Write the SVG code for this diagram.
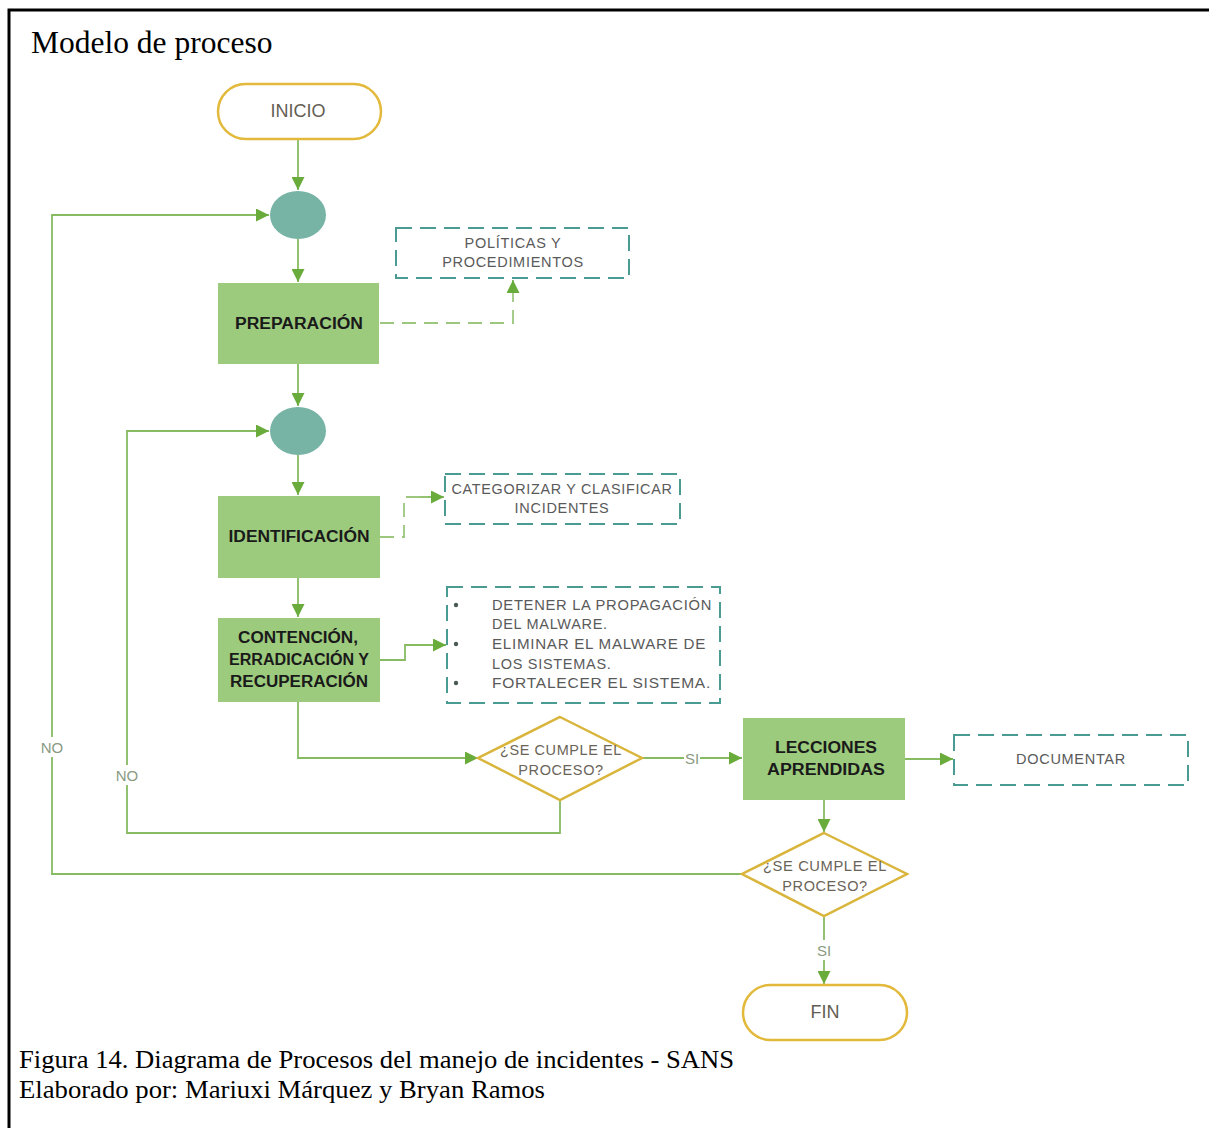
<svg xmlns="http://www.w3.org/2000/svg" width="1209" height="1128" viewBox="0 0 1209 1128">
  <style>
    .frame { fill: none; stroke: #000; stroke-width: 3; }
    .title { font-family: "Liberation Serif", "Times New Roman", serif; fill: #000; }
    .term { fill: #fff; stroke: #e2b93b; stroke-width: 2.5; }
    .term-text { font-family: "Liberation Sans", Arial, sans-serif; font-size: 18px; fill: #635d52; text-anchor: middle; }
    .junction { fill: #77b4a6; }
    .step { fill: #9dcb7e; }
    .step-text { font-family: "Liberation Sans", Arial, sans-serif; font-weight: bold; font-size: 16px; fill: #1a1a1a; text-anchor: middle; }
    .note { fill: #fff; stroke: #4a9c92; stroke-width: 2; stroke-dasharray: 16 8; }
    .note-text { font-family: "Liberation Sans", Arial, sans-serif; font-size: 14.5px; fill: #5a5a5a; letter-spacing: 0.7px; }
    .decision { fill: #fff; stroke: #d9b53c; stroke-width: 2.5; }
    .dec-text { font-family: "Liberation Sans", Arial, sans-serif; font-size: 14.5px; fill: #6a6458; text-anchor: middle; letter-spacing: 0.6px; }
    .flow { fill: none; stroke: #86bb62; stroke-width: 1.8; }
    .flow-dash { fill: none; stroke: #9cc77f; stroke-width: 1.8; stroke-dasharray: 14 8; }
    .label { font-family: "Liberation Sans", Arial, sans-serif; font-size: 15px; fill: #8a9a82; text-anchor: middle; }
    .bullet { fill: #4a5a58; }
  </style>
  <defs>
    <marker id="arrow" markerUnits="userSpaceOnUse" markerWidth="14" markerHeight="13" refX="13" refY="6.5" orient="auto">
      <path d="M0,0 L13,6.5 L0,13 z" fill="#6aac3c"/>
    </marker>
  </defs>

  <rect width="1209" height="1128" fill="#fff"/>
  <path class="frame" d="M9,1128 V10 H1209"/>
  <text class="title" x="31" y="53" font-size="31.5">Modelo de proceso</text>

  <!-- connectors -->
  <g id="connectors">
    <path class="flow" d="M298,139 V190" marker-end="url(#arrow)"/>
    <path class="flow" d="M298,239 V282" marker-end="url(#arrow)"/>
    <path class="flow" d="M298,364 V406" marker-end="url(#arrow)"/>
    <path class="flow" d="M298,455 V495" marker-end="url(#arrow)"/>
    <path class="flow" d="M298,578 V617" marker-end="url(#arrow)"/>
    <path class="flow" d="M298,702 V758 H478" marker-end="url(#arrow)"/>
    <path class="flow" d="M642,758 H684"/>
    <path class="flow" d="M700,758 H742" marker-end="url(#arrow)"/>
    <path class="flow" d="M560,800 V833 H127 V785"/>
    <path class="flow" d="M127,765 V431 H269" marker-end="url(#arrow)"/>
    <path class="flow" d="M905,759 H953" marker-end="url(#arrow)"/>
    <path class="flow" d="M824,800 V832" marker-end="url(#arrow)"/>
    <path class="flow" d="M742,874 H52 V757"/>
    <path class="flow" d="M52,737 V215 H269" marker-end="url(#arrow)"/>
    <path class="flow" d="M824,916 V940"/>
    <path class="flow" d="M824,960 V984" marker-end="url(#arrow)"/>
    <path class="flow-dash" d="M380,323 H513 V280"/>
    <path class="flow" d="M513,292 V280" marker-end="url(#arrow)"/>
    <path class="flow-dash" d="M380,537 H404 V497 H430"/>
    <path class="flow" d="M420,497 H444" marker-end="url(#arrow)"/>
    <path class="flow" d="M380,660 H405 V645 H446" marker-end="url(#arrow)"/>
    <text class="label" x="692" y="764">SI</text>
    <text class="label" x="52" y="753">NO</text>
    <text class="label" x="127" y="781">NO</text>
    <text class="label" x="824" y="956">SI</text>
  </g>

  <g id="inicio">
    <rect class="term" x="218" y="84" width="163" height="55" rx="27.5"/>
    <text class="term-text" x="298" y="117">INICIO</text>
  </g>

  <g id="junction-1">
    <ellipse class="junction" cx="298" cy="215" rx="28" ry="24"/>
  </g>

  <g id="preparacion">
    <rect class="step" x="218" y="283" width="161" height="81"/>
    <text class="step-text" x="299" y="329" textLength="128" lengthAdjust="spacingAndGlyphs">PREPARACIÓN</text>
  </g>

  <g id="politicas">
    <rect class="note" x="396" y="228" width="233" height="50"/>
    <text class="note-text" x="513" y="248" text-anchor="middle">POLÍTICAS Y</text>
    <text class="note-text" x="513" y="267" text-anchor="middle">PROCEDIMIENTOS</text>
  </g>

  <g id="junction-2">
    <ellipse class="junction" cx="298" cy="431" rx="28" ry="24"/>
  </g>

  <g id="identificacion">
    <rect class="step" x="218" y="496" width="162" height="82"/>
    <text class="step-text" x="299" y="542" textLength="141" lengthAdjust="spacingAndGlyphs">IDENTIFICACIÓN</text>
  </g>

  <g id="categorizar">
    <rect class="note" x="445" y="474" width="235" height="50"/>
    <text class="note-text" x="562" y="494" text-anchor="middle" textLength="221" lengthAdjust="spacingAndGlyphs">CATEGORIZAR Y CLASIFICAR</text>
    <text class="note-text" x="562" y="513" text-anchor="middle">INCIDENTES</text>
  </g>

  <g id="contencion">
    <rect class="step" x="218" y="618" width="162" height="84"/>
    <text class="step-text" x="298" y="643" textLength="120" lengthAdjust="spacingAndGlyphs">CONTENCIÓN,</text>
    <text class="step-text" x="299" y="665" textLength="140" lengthAdjust="spacingAndGlyphs">ERRADICACIÓN Y</text>
    <text class="step-text" x="299" y="687" textLength="138" lengthAdjust="spacingAndGlyphs">RECUPERACIÓN</text>
  </g>

  <g id="acciones">
    <rect class="note" x="447" y="587" width="273" height="116"/>
    <circle class="bullet" cx="456" cy="605" r="2.2"/>
    <circle class="bullet" cx="456" cy="644" r="2.2"/>
    <circle class="bullet" cx="456" cy="683" r="2.2"/>
    <text class="note-text" x="492" y="610" textLength="220" lengthAdjust="spacingAndGlyphs">DETENER LA PROPAGACIÓN</text>
    <text class="note-text" x="492" y="629">DEL MALWARE.</text>
    <text class="note-text" x="492" y="649" textLength="214" lengthAdjust="spacingAndGlyphs">ELIMINAR EL MALWARE DE</text>
    <text class="note-text" x="492" y="669">LOS SISTEMAS.</text>
    <text class="note-text" x="492" y="688" textLength="219" lengthAdjust="spacingAndGlyphs">FORTALECER EL SISTEMA.</text>
  </g>

  <g id="decision-1">
    <polygon class="decision" points="560,717 642,758 560,800 478,758"/>
    <text class="dec-text" x="561" y="755" textLength="122" lengthAdjust="spacingAndGlyphs">¿SE CUMPLE EL</text>
    <text class="dec-text" x="561" y="775">PROCESO?</text>
  </g>

  <g id="lecciones">
    <rect class="step" x="743" y="718" width="162" height="82"/>
    <text class="step-text" x="826" y="753" textLength="102" lengthAdjust="spacingAndGlyphs">LECCIONES</text>
    <text class="step-text" x="826" y="775" textLength="118" lengthAdjust="spacingAndGlyphs">APRENDIDAS</text>
  </g>

  <g id="documentar">
    <rect class="note" x="954" y="735" width="234" height="50"/>
    <text class="note-text" x="1071" y="764" text-anchor="middle">DOCUMENTAR</text>
  </g>

  <g id="decision-2">
    <polygon class="decision" points="824,833 907,874 824,916 742,874"/>
    <text class="dec-text" x="825" y="871" textLength="124" lengthAdjust="spacingAndGlyphs">¿SE CUMPLE EL</text>
    <text class="dec-text" x="825" y="891">PROCESO?</text>
  </g>

  <g id="fin">
    <rect class="term" x="743" y="985" width="164" height="55" rx="27.5"/>
    <text class="term-text" x="825" y="1018">FIN</text>
  </g>

  <text class="title" x="19" y="1068" font-size="25" textLength="715" lengthAdjust="spacingAndGlyphs">Figura 14. Diagrama de Procesos del manejo de incidentes - SANS</text>
  <text class="title" x="19" y="1098" font-size="25" textLength="526" lengthAdjust="spacingAndGlyphs">Elaborado por: Mariuxi Márquez y Bryan Ramos</text>
</svg>
